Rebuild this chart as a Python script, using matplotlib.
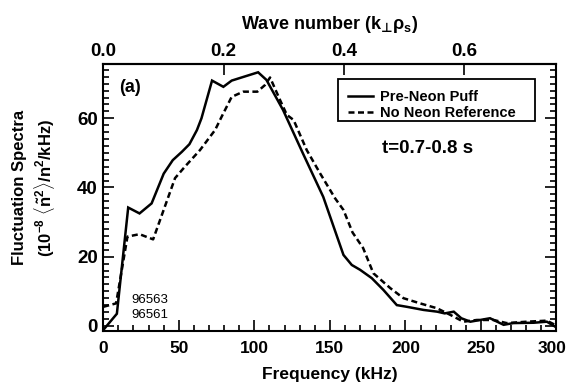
import matplotlib
matplotlib.use("Agg")
import matplotlib.pyplot as plt
import matplotlib.transforms as mtransforms
from matplotlib.ticker import MultipleLocator, FixedLocator, FormatStrFormatter
from matplotlib.patches import Rectangle

# ---- data ----
freq_pre = [0, 9, 16.5, 24, 32, 40, 46, 52, 57, 62, 65, 72, 79.5, 85, 93, 102.5, 108,
            119, 132, 145.6, 155, 159, 164.5, 170, 177.7, 185.4, 194.3, 201, 212, 221,
            226, 232, 237, 243, 249.5, 256, 265, 271.5, 285, 293.6, 299]
spec_pre = [-1.2, 3.5, 34.2, 32.5, 35.4, 44, 47.9, 50.3, 52.5, 56.6, 60, 70.9, 69.1, 70.9,
            72, 73.3, 71.1, 62.4, 50, 37.3, 25.5, 20.5, 17.6, 16.2, 13.8, 10.4, 6, 5.5,
            4.6, 4.1, 3.6, 4.1, 2.2, 1.2, 1.7, 2.2, 0.3, 0.8, 0.9, 1.2, -0.2]

freq_ref = [0, 8.5, 16, 24, 33, 47.5, 54, 64, 70.7, 74, 78.4, 85, 92.7, 102, 107, 110.4,
            117, 121.5, 126, 134.7, 143.5, 153.4, 159, 165, 172, 178.8, 190, 198.7,
            209.7, 220.8, 229.6, 238.4, 247.3, 258.3, 267, 280.4, 293.6, 299]
spec_ref = [5.5, 6.5, 25.8, 26.5, 25.0, 42.7, 46, 50.8, 54.7, 56.6, 60.5, 66.2, 67.7,
            67.7, 69.6, 71.8, 65.3, 61, 59.5, 50.8, 44.1, 36.9, 33.5, 27, 22.5, 15.2,
            10.9, 8, 6.5, 5.1, 3.2, 1.2, 1.7, 1.7, 0.8, 1.2, 1.5, 0.3]

series_labels = ["Pre-Neon Puff", "No Neon Reference"]
x_ticks = [0, 50, 100, 150, 200, 250, 300]
y_ticks = [0, 20, 40, 60]
k_ticks = [0.0, 0.2, 0.4, 0.6]
khz_per_k = 398.0

# ---- style ----
plt.rcParams['font.family'] = ['Liberation Sans', 'DejaVu Sans']
plt.rcParams['font.weight'] = 'bold'
plt.rcParams['mathtext.fontset'] = 'custom'
plt.rcParams['mathtext.rm'] = 'Liberation Sans:bold'
plt.rcParams['mathtext.it'] = 'Liberation Sans:bold'
plt.rcParams['mathtext.bf'] = 'Liberation Sans:bold'
plt.rcParams['mathtext.sf'] = 'DejaVu Sans:bold'

fig = plt.figure(figsize=(5.69, 3.89), dpi=100)
ax = fig.add_axes([0.1815, 0.149, 0.7965, 0.6865])

ax.plot(freq_pre, spec_pre, color='black', lw=1.8, solid_joinstyle='miter',
        label=series_labels[0])
ax.plot(freq_ref, spec_ref, color='black', lw=1.8, dashes=(2.4, 1.4),
        label=series_labels[1])

ax.set_xlim(0, 300)
ax.set_ylim(-1.5, 75.7)

ax.xaxis.set_major_locator(FixedLocator(x_ticks))
ax.xaxis.set_minor_locator(MultipleLocator(10))
ax.yaxis.set_major_locator(FixedLocator(y_ticks))
ax.yaxis.set_minor_locator(MultipleLocator(2))
ax.tick_params(which='both', direction='in', top=False, right=True, width=1.2,
               color='black')
ax.tick_params(axis='x', pad=7, labelsize=12.5)
ax.tick_params(axis='y', pad=4, labelsize=13.5)
ax.tick_params(which='major', length=8)
ax.tick_params(which='minor', length=4)
for s in ax.spines.values():
    s.set_linewidth(1.5)

ax.set_xlabel("Frequency (kHz)", fontsize=12.5, fontweight='bold', labelpad=8)
fig.text(0.034, 0.517, "Fluctuation Spectra", rotation=90, ha='center', va='center',
         fontsize=12, fontweight='bold')
fig.text(0.079, 0.517, r"(10$^{-8}$ $\langle\tilde{\mathrm{n}}^{2}\rangle$/n$^{2}$/kHz)",
         rotation=90, ha='center', va='center', fontsize=12, fontweight='bold')

sec = ax.secondary_xaxis('top', functions=(lambda f: f / khz_per_k, lambda k: k * khz_per_k))
sec.xaxis.set_major_locator(FixedLocator(k_ticks))
sec.xaxis.set_major_formatter(FormatStrFormatter('%.1f'))
sec.tick_params(direction='in', length=8, width=1.2, labelsize=13.5, pad=3)
sec.spines['top'].set_linewidth(1.5)
sec.set_xlabel(r"Wave number (k$_{\mathsf{⊥}}$ρ$_{\mathrm{s}}$)", fontsize=13,
               fontweight='bold', labelpad=10)

# legend box drawn in axes coordinates
box_x0, box_x1, box_y0, box_y1 = 0.518, 0.952, 0.787, 0.943
ax.add_patch(Rectangle((box_x0, box_y0), box_x1 - box_x0, box_y1 - box_y0,
                       transform=ax.transAxes, fill=True, facecolor='white',
                       edgecolor='black', lw=1.3, zorder=4))
leg = ax.legend(loc='upper left', bbox_to_anchor=(box_x0 - 0.005, box_y1 + 0.005),
                frameon=False, handlelength=1.7, handletextpad=0.45, borderpad=0.35,
                labelspacing=0.1, prop={'weight': 'bold', 'size': 10.5})
leg.set_zorder(5)

ax.text(214.7, 51.3, "t=0.7-0.8 s", ha='center', va='center', fontsize=13.5,
        fontweight='bold')
ax.text(17.7, 68.8, "(a)", ha='center', va='center', fontsize=13, fontweight='bold')
ax.text(18.5, 7.5, "96563", ha='left', va='center', fontsize=9.5, fontweight='normal')
ax.text(18.5, 3.1, "96561", ha='left', va='center', fontsize=9.5, fontweight='normal')

# keep the last bottom tick label inside the canvas
fig.canvas.draw()
last = ax.get_xticklabels()[-1]
last.set_transform(last.get_transform() +
                   mtransforms.ScaledTranslation(-4 / 100, 0, fig.dpi_scale_trans))

fig.savefig("out.png", dpi=100)
